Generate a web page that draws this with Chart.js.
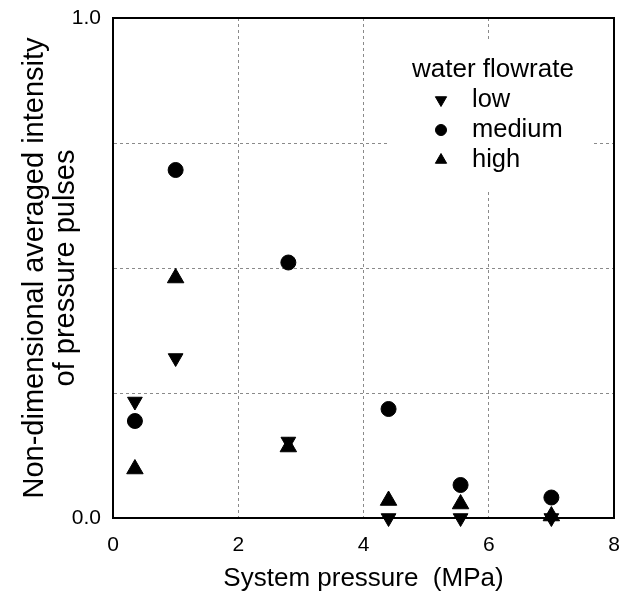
<!DOCTYPE html>
<html>
<head>
<meta charset="utf-8">
<script src="https://cdn.jsdelivr.net/npm/chart.js@4/dist/chart.umd.min.js"></script>
<style>
  html, body { margin: 0; padding: 0; background: #fff; }
  #wrap { width: 620px; height: 595px; }
</style>
</head>
<body>
<div id="wrap"><canvas id="myChart" width="620" height="595"></canvas></div>
<script>
const pressure = [0.35, 1.0, 2.8, 4.4, 5.55, 7.0];
const lowFlow = [0.233, 0.32, 0.153, 0.0, 0.0, 0.0];
const mediumFlow = [0.194, 0.696, 0.511, 0.218, 0.066, 0.041];
const highFlow = [0.098, 0.48, 0.142, 0.035, 0.028, 0.004];
const seriesNames = ['low', 'medium', 'high'];
const legendTitle = 'water flowrate';
const xTicks = [0, 2, 4, 6, 8];
const yTickLabels = [0.0, 1.0];

const FONT = '"Liberation Sans", Arial, sans-serif';

function toPoints(ys) {
    return pressure.map((x, i) => ({ x: x, y: ys[i] }));
}

function drawSymbol(ctx, style, radius, rotation, x, y) {
    if (Chart.helpers && Chart.helpers.drawPoint) {
        ctx.fillStyle = 'black';
        ctx.strokeStyle = 'black';
        ctx.lineWidth = 1;
        Chart.helpers.drawPoint(ctx, { pointStyle: style, radius: radius, rotation: rotation, borderWidth: 1 }, x, y);
    }
}

// no auto padding for the edge tick labels, the box is fixed by the layout padding
function noEdgePadding(scale) {
    scale.paddingTop = 0;
    scale.paddingRight = 0;
    scale.paddingLeft = 0;
    scale.paddingBottom = 0;
}

// frame + white box behind the legend, then the legend itself
const framePlugin = {
    id: 'frameAndLegend',
    beforeDatasetsDraw(chart) {
        const ctx = chart.ctx;
        const a = chart.chartArea;
        ctx.save();
        ctx.fillStyle = 'white';
        ctx.fillRect(a.left + 275, a.top + 22, a.right - a.left - 296, 150);
        ctx.strokeStyle = 'black';
        ctx.lineWidth = 2;
        ctx.strokeRect(a.left, a.top, a.right - a.left, a.bottom - a.top);
        ctx.restore();
    },
    afterDatasetsDraw(chart) {
        const ctx = chart.ctx;
        const a = chart.chartArea;
        const x0 = a.left + 299;
        ctx.save();
        ctx.fillStyle = 'black';
        ctx.textBaseline = 'alphabetic';
        ctx.textAlign = 'left';
        ctx.font = '26px ' + FONT;
        ctx.fillText(legendTitle, x0, a.top + 59);
        ctx.font = '25.5px ' + FONT;
        chart.data.datasets.forEach((ds, i) => {
            const base = a.top + 89 + i * 30;
            drawSymbol(ctx, ds.pointStyle, ds.pointStyle === 'circle' ? 5.5 : 6.5, ds.rotation || 0, x0 + 29, base - 7);
            ctx.fillStyle = 'black';
            ctx.fillText(ds.label, x0 + 60, base);
        });
        ctx.restore();
    }
};

function createChart() {
    const ctx = document.getElementById('myChart').getContext('2d');
    const data = {
        datasets: [
            {
                label: seriesNames[0],
                data: toPoints(lowFlow),
                pointStyle: 'triangle',
                rotation: 180,
                pointRadius: 8.5,
                backgroundColor: 'black',
                borderColor: 'black',
                clip: false
            },
            {
                label: seriesNames[1],
                data: toPoints(mediumFlow),
                pointStyle: 'circle',
                pointRadius: 7.5,
                backgroundColor: 'black',
                borderColor: 'black',
                clip: false
            },
            {
                label: seriesNames[2],
                data: toPoints(highFlow),
                pointStyle: 'triangle',
                pointRadius: 9.5,
                backgroundColor: 'black',
                borderColor: 'black',
                clip: false
            }
        ]
    };

    const config = {
        type: 'scatter',
        data: data,
        plugins: [framePlugin],
        options: {
            responsive: false,
            animation: false,
            events: [],
            layout: { autoPadding: false, padding: { top: 18, right: 6, left: 0, bottom: 0 } },
            plugins: {
                legend: { display: false },
                tooltip: { enabled: false }
            },
            scales: {
                x: {
                    type: 'linear',
                    min: 0,
                    max: 8,
                    afterBuildTicks: (scale) => { scale.ticks = xTicks.map(v => ({ value: v })); },
                    afterFit: (scale) => { scale.height = 77; noEdgePadding(scale); },
                    ticks: {
                        color: 'black',
                        padding: 15,
                        font: { family: FONT, size: 21 },
                        callback: (v) => String(v)
                    },
                    grid: {
                        drawTicks: false,
                        color: (c) => (c.tick && (c.tick.value === 0 || c.tick.value === 8)) ? 'rgba(0,0,0,0)' : '#8a8a8a',
                        lineWidth: 1
                    },
                    border: { display: true, color: 'black', width: 2, dash: [3, 3] },
                    title: {
                        display: true,
                        text: 'System pressure  (MPa)',
                        color: 'black',
                        font: { family: FONT, size: 26 },
                        padding: { top: 0, bottom: 1 }
                    }
                },
                y: {
                    type: 'linear',
                    min: 0,
                    max: 1,
                    afterFit: (scale) => { scale.width = 113; noEdgePadding(scale); },
                    ticks: {
                        stepSize: 0.25,
                        color: 'black',
                        padding: 12,
                        font: { family: FONT, size: 21 },
                        callback: (v) => yTickLabels.includes(v) ? v.toFixed(1) : ''
                    },
                    grid: {
                        drawTicks: false,
                        color: (c) => (c.tick && (c.tick.value === 0 || c.tick.value === 1)) ? 'rgba(0,0,0,0)' : '#8a8a8a',
                        lineWidth: 1
                    },
                    border: { display: true, color: 'black', width: 2, dash: [3, 3] },
                    title: {
                        display: true,
                        text: ['Non-dimensional averaged intensity', 'of pressure pulses'],
                        color: 'black',
                        font: { family: FONT, size: 29, lineHeight: 1.06 },
                        padding: { top: 20, bottom: 0 }
                    }
                }
            }
        }
    };

    new Chart(ctx, config);
}
createChart()
</script>
</body>
</html>
